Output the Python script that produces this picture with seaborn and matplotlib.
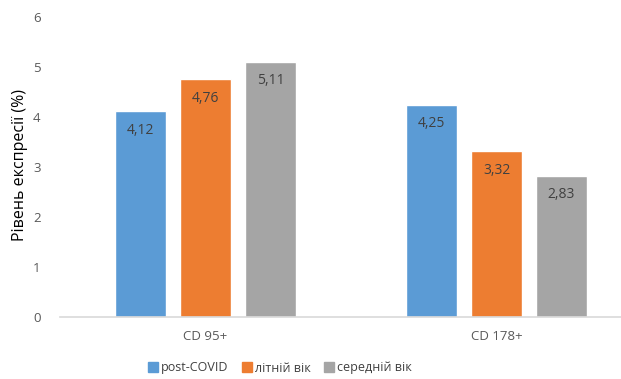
import matplotlib
matplotlib.use("Agg")
import matplotlib.pyplot as plt
import seaborn as sns
import pandas as pd
from matplotlib.lines import Line2D

# Values
categories = ["CD 95+", "CD 178+"]
groups = ["post-COVID", "літній вік", "середній вік"]
post_covid = [4.12, 4.25]
elderly = [4.76, 3.32]
middle_age = [5.11, 2.83]
y_ticks = [0, 1, 2, 3, 4, 5, 6]
y_label = "Рівень експресії (%)"

colors = ["#5B9BD5", "#ED7D31", "#A5A5A5"]

rows = []
for grp, vals in zip(groups, [post_covid, elderly, middle_age]):
    for cat, v in zip(categories, vals):
        rows.append({"cat": cat, "grp": grp, "val": v})
df = pd.DataFrame(rows)

sns.set_theme(style="white")
plt.rcParams["font.family"] = ["Open Sans", "DejaVu Sans"]

W, H = 621, 379
fig = plt.figure(figsize=(W / 100, H / 100), dpi=100)
ax = fig.add_axes([60 / W, (H - 317) / H, 582 / W, 300 / H])

sns.barplot(data=df, x="cat", y="val", hue="grp", order=categories,
            hue_order=groups, palette=colors, width=0.67, gap=0.23,
            saturation=1, ax=ax, legend=False)

for cont in ax.containers:
    for bar in cont:
        h = bar.get_height()
        ax.annotate(f"{h:.2f}".replace(".", ","),
                    (bar.get_x() + bar.get_width() / 2, h),
                    xytext=(0, -19), textcoords="offset pixels",
                    ha="center", va="center", fontsize=10, color="#404040")

ax.set_xlim(-0.5, 1.5)
ax.set_ylim(0, 6)
ax.set_yticks(y_ticks)
ax.set_yticklabels([str(t) for t in y_ticks])
ax.tick_params(axis="both", length=0, labelsize=9.5, labelcolor="#595959")
ax.tick_params(axis="y", pad=14)
ax.tick_params(axis="x", pad=9)
ax.set_xlabel("")
ax.set_ylabel("")
fig.text(20 / W, 1 - 165 / H, y_label, rotation=90, ha="center", va="center",
         fontsize=11.5, color="#000000")
for s in ["top", "right", "left"]:
    ax.spines[s].set_visible(False)
ax.spines["bottom"].set_color("#D9D9D9")
ax.spines["bottom"].set_linewidth(1.2)

handles = [Line2D([], [], marker="s", linestyle="none", markersize=6.5,
                  markerfacecolor=c, markeredgecolor=c) for c in colors]
fig.legend(handles, groups, loc="center", bbox_to_anchor=(280 / W, 1 - 368 / H),
           ncol=3, frameon=False, fontsize=9, handletextpad=0.3,
           columnspacing=1.1, labelcolor="#404040", handlelength=0.7)

fig.savefig("out.png", dpi=100)
